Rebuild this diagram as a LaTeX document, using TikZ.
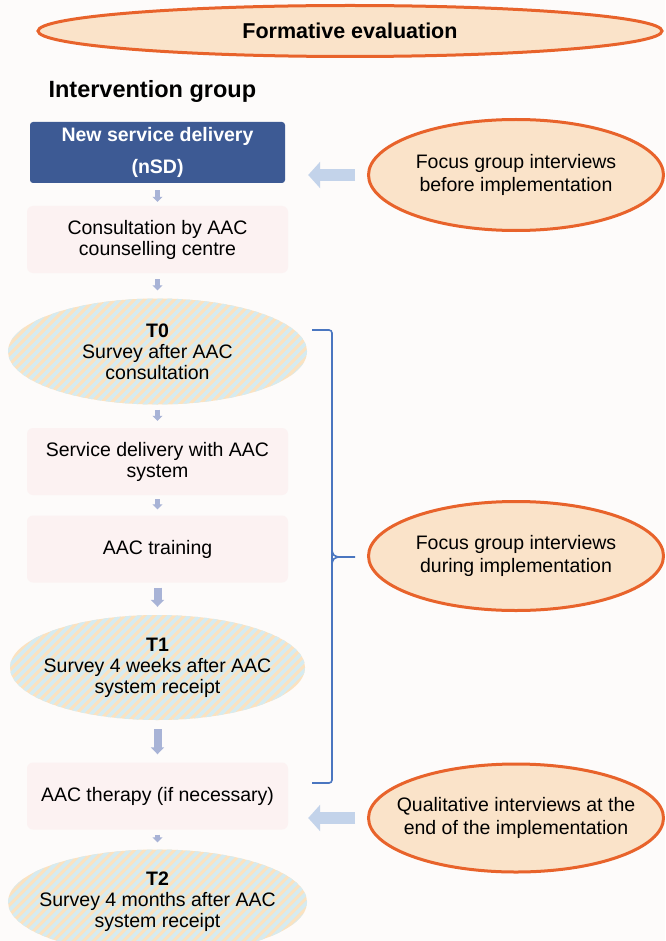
\documentclass[tikz,border=0pt]{standalone}
\usepackage{fontspec}
\setmainfont{Liberation Sans}
\usetikzlibrary{shapes.geometric,arrows.meta}

\definecolor{bgc}{RGB}{253,251,250}
\definecolor{peach}{RGB}{250,227,201}
\definecolor{orangec}{RGB}{232,99,43}
\definecolor{nsdblue}{RGB}{61,90,148}
\definecolor{boxpink}{RGB}{252,242,242}
\definecolor{stripeo}{RGB}{251,226,192}
\definecolor{stripec}{RGB}{214,235,240}
\definecolor{flowc}{RGB}{168,179,214}
\definecolor{sidec}{RGB}{195,211,234}
\definecolor{bracec}{RGB}{74,118,192}

\tikzset{
    evalell/.style={ellipse, draw=orangec, line width=3pt, fill=peach, inner sep=0pt,
        inner xsep=-45pt, align=center, font=\fontsize{19.5}{23.5}\selectfont},
    stepbox/.style={rectangle, rounded corners=6pt, fill=boxpink, inner sep=0pt,
        minimum width=261pt, minimum height=67pt, align=center,
        font=\fontsize{19.5}{21}\selectfont},
    survey/.style={ellipse, fill=stripeo, inner sep=0pt, inner xsep=-45pt,
        minimum width=299pt, minimum height=106pt, align=center,
        font=\fontsize{19.5}{21}\selectfont,
        path picture={
            \foreach \k in {-250,-240,...,250}
                \draw[stripec, line width=3.8pt]
                    ([xshift=\k pt]path picture bounding box.center)
                    +(-70pt,-70pt) -- +(70pt,70pt);
        }},
    flowarr/.style={draw=flowc, line width=5pt, -{Triangle[length=5pt,width=10pt]}},
    bigflow/.style={draw=flowc, line width=8pt, -{Triangle[length=7pt,width=13pt]}},
    sidearr/.style={draw=sidec, line width=12pt, -{Triangle[length=12pt,width=26pt]}},
}

\begin{document}
\begin{tikzpicture}[x=1pt, y=-1pt]
        \fill[bgc] (0,0) rectangle (665,941);
        \useasboundingbox (0,0) rectangle (665,941);

        % heading
        \node[evalell, minimum width=624pt, minimum height=51pt,
            font=\fontsize{21.5}{25}\selectfont\bfseries] (formative) at (350,31) {Formative evaluation};
        \node[anchor=west, font=\fontsize{23.5}{27}\selectfont\bfseries] (group) at (45,91) {Intervention group};

        % left column
        \node[rectangle, rounded corners=3pt, fill=nsdblue, text=white, inner sep=0pt,
            minimum width=255pt, minimum height=61pt, align=center,
            font=\fontsize{19.5}{32}\selectfont\bfseries] (nsd) at (157.5,152.5) {New service delivery\\(nSD)};
        \node[stepbox] (consult) at (157.5,239.5) {Consultation by AAC\\counselling centre};
        \node[survey] (t0) at (157.5,351.5) {\textbf{T0}\\Survey after AAC\\consultation};
        \node[stepbox] (delivery) at (157.5,461.5) {Service delivery with AAC\\system};
        \node[stepbox] (training) at (157.5,549) {AAC training};
        \node[survey, minimum width=295pt, minimum height=105pt] (t1) at (157.5,667.5) {\textbf{T1}\\Survey 4 weeks after AAC\\system receipt};
        \node[stepbox] (therapy) at (157.5,796) {AAC therapy (if necessary)};
        \node[survey, minimum height=105pt] (t2) at (157.5,902) {\textbf{T2}\\Survey 4 months after AAC\\system receipt};

        \draw[flowarr, shorten <=7pt, shorten >=4pt] (nsd.south) -- (consult.north);
        \draw[flowarr, shorten <=6pt, shorten >=8pt] (consult.south) -- (t0.north);
        \draw[flowarr, shorten <=5pt, shorten >=7pt] (t0.south) -- (delivery.north);
        \draw[flowarr, shorten <=4pt, shorten >=6pt] (delivery.south) -- (training.north);
        \draw[bigflow, shorten <=5pt, shorten >=8pt] (training.south) -- (t1.north);
        \draw[bigflow, shorten <=9pt, shorten >=8pt] (t1.south) -- (therapy.north);
        \draw[flowarr, shorten <=5pt, shorten >=7pt] (therapy.south) -- (t2.north);

        % right column
        \node[evalell, minimum width=295pt, minimum height=111pt] (before) at (516,175) {Focus group interviews\\before implementation};
        \node[evalell, minimum width=295pt, minimum height=109pt] (during) at (516,556) {Focus group interviews\\during implementation};
        \node[evalell, minimum width=295pt, minimum height=108pt] (after) at (516,818) {Qualitative interviews at the\\end of the implementation};

        \draw[sidearr, shorten <=12pt, shorten >=23pt] (before.west) -- (before.west -| nsd.east);
        \draw[sidearr, shorten <=12pt, shorten >=20pt] (after.west) -- (after.west -| therapy.east);

        % bracket
        \coordinate (btop) at (312,330);
        \coordinate (bbot) at (312,783);
        \coordinate (btip) at (355,557);
        \draw[bracec, line width=1.6pt, rounded corners=3pt]
            (btop) -- (332,330) -- (332,783) -- (bbot);
        \draw[bracec, line width=1.6pt]
            (332,548) .. controls (332,555) and (334,557) .. (341,557) -- (btip)
            (341,557) .. controls (334,557) and (332,559) .. (332,566);
    \end{tikzpicture}
\end{document}
